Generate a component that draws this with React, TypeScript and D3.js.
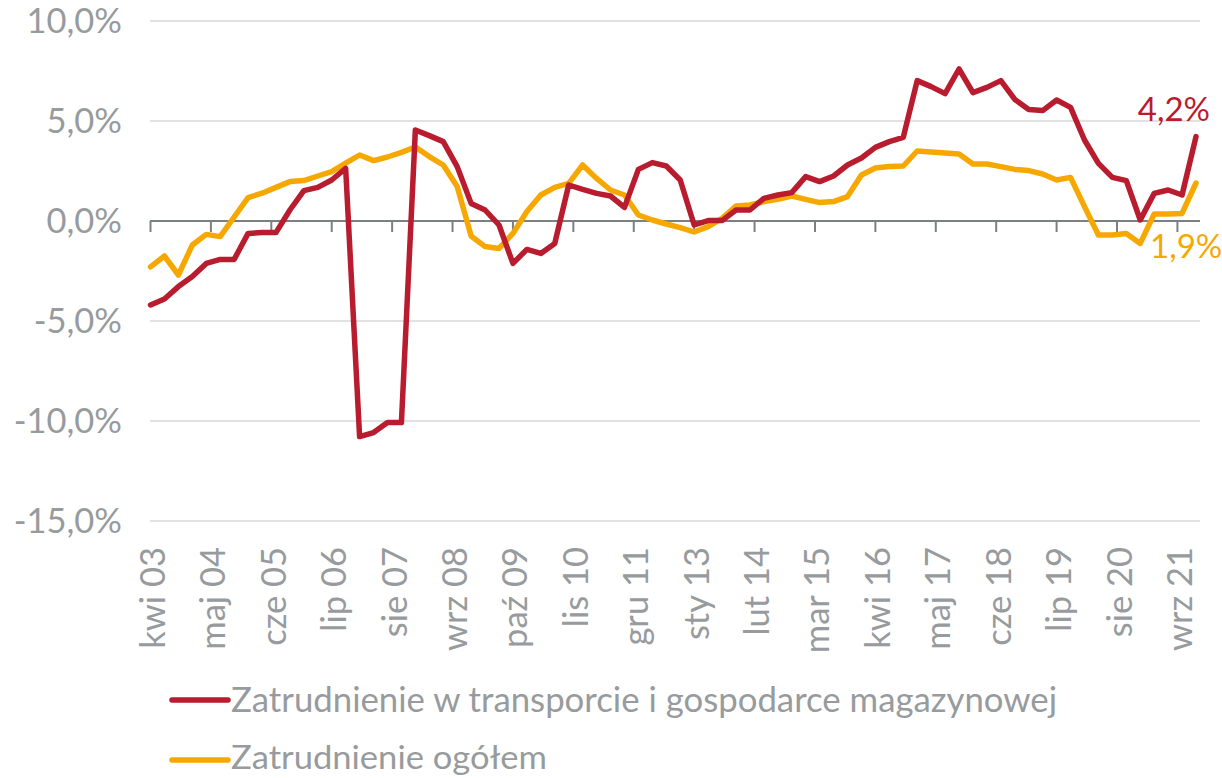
import React from 'react'
import { scaleLinear, line } from 'd3'

// quarterly y/y change, %, starting kwi 03
const transport = [
  -4.2, -3.9, -3.28, -2.78, -2.12, -1.92, -1.92, -0.62, -0.58, -0.58,
  0.55, 1.52, 1.68, 2.05, 2.63, -10.78, -10.58, -10.08, -10.08, 4.55,
  4.27, 3.97, 2.72, 0.88, 0.55, -0.2, -2.12, -1.42, -1.62, -1.12,
  1.8, 1.58, 1.38, 1.25, 0.68, 2.58, 2.92, 2.75, 2.05, -0.2,
  0.02, 0.02, 0.55, 0.55, 1.13, 1.3, 1.42, 2.22, 1.97, 2.25,
  2.8, 3.15, 3.68, 3.97, 4.18, 7.02, 6.72, 6.37, 7.6, 6.42,
  6.68, 7.02, 6.08, 5.58, 5.52, 6.05, 5.68, 4.05, 2.88, 2.18,
  2.02, 0.05, 1.38, 1.55, 1.3, 4.22,
]
const total = [
  -2.29, -1.75, -2.7, -1.2, -0.67, -0.78, 0.2, 1.17, 1.39, 1.68,
  1.97, 2.02, 2.25, 2.47, 2.89, 3.3, 3.02, 3.2, 3.43, 3.7,
  3.22, 2.8, 1.72, -0.75, -1.28, -1.37, -0.62, 0.47, 1.3, 1.68,
  1.88, 2.8, 2.13, 1.55, 1.3, 0.3, 0.05, -0.15, -0.33, -0.55,
  -0.28, 0.13, 0.75, 0.8, 0.97, 1.08, 1.25, 1.08, 0.92, 0.97,
  1.22, 2.3, 2.65, 2.73, 2.75, 3.5, 3.45, 3.4, 3.35, 2.85,
  2.85, 2.72, 2.58, 2.52, 2.35, 2.05, 2.18, 0.72, -0.7, -0.7,
  -0.62, -1.12, 0.35, 0.35, 0.38, 1.9,
]
const tickLabels = [
  'kwi 03', 'maj 04', 'cze 05', 'lip 06', 'sie 07', 'wrz 08', 'paź 09', 'lis 10', 'gru 11',
  'sty 13', 'lut 14', 'mar 15', 'kwi 16', 'maj 17', 'cze 18', 'lip 19', 'sie 20', 'wrz 21',
]
const yTicks = [10, 5, 0, -5, -10, -15]
const seriesNames = ['Zatrudnienie w transporcie i gospodarce magazynowej', 'Zatrudnienie ogółem']

const RED = '#b81c2e'
const ORANGE = '#f7a800'
const TEXT = '#979b9d'
const FONT = 'Lato, sans-serif'

const App = () => {
  // x in months since kwi 03; one point per quarter, a label every 13 months
  const x = scaleLinear().domain([0, 225]).range([150.5, 1196])
  const y = scaleLinear().domain([-15, 10]).range([521, 21])

  const mk = line<number>()
    .x((d, i) => x(i * 3))
    .y(d => y(d))

  const fmt = (v: number) => v.toFixed(1).replace('.', ',') + '%'
  const legendWidths = [826, 316]

  return (
    <svg width={1222} height={778} style={{ position: 'absolute', left: 0, top: 0 }}
      fontFamily={FONT}>
      <rect width={1222} height={778} fill="#fff" />
      {yTicks.filter(t => t !== 0).map(t => (
        <line key={t} x1={150} x2={1200} y1={y(t)} y2={y(t)} stroke="#d9d9d9" strokeWidth={1.5} />
      ))}
      {yTicks.map(t => (
        <text key={t} x={122} y={y(t)} dy="0.36em" textAnchor="end" fontSize={34.5} fill={TEXT}>
          {fmt(t)}
        </text>
      ))}

      <line x1={150} x2={1200} y1={y(0)} y2={y(0)} stroke="#7c8080" strokeWidth={2} />
      {tickLabels.map((lab, k) => (
        <g key={lab + k}>
          <line x1={x(k * 13)} x2={x(k * 13)} y1={y(0)} y2={y(0) + 11} stroke="#7c8080" strokeWidth={2} />
          <text transform={`translate(${x(k * 13)},547) rotate(-90)`} dy="0.42em" textAnchor="end"
            fontSize={34.5} fill={TEXT}>{lab}</text>
        </g>
      ))}

      <path d={mk(total) || ''} fill="none" stroke={ORANGE} strokeWidth={5.5} strokeLinejoin="round" strokeLinecap="round" />
      <path d={mk(transport) || ''} fill="none" stroke={RED} strokeWidth={5.5} strokeLinejoin="round" strokeLinecap="round" />

      <text x={1210} y={121} textAnchor="end" fontSize={33} fill={RED}>{fmt(transport[transport.length - 1])}</text>
      <text x={1150} y={258} fontSize={33} fill={ORANGE}>{fmt(total[total.length - 1])}</text>

      {seriesNames.map((name, i) => (
        <g key={name} transform={`translate(0,${700 + i * 60})`}>
          <line x1={172} x2={228} y1={0} y2={0} stroke={i === 0 ? RED : ORANGE} strokeWidth={5.5} strokeLinecap="round" />
          <text x={231} y={0} dy={i === 0 ? '0.34em' : '0.28em'} fontSize={i === 0 ? 34 : 33} fill={TEXT}
            textLength={legendWidths[i]} lengthAdjust="spacingAndGlyphs">{name}</text>
        </g>
      ))}
    </svg>
  )
}

export default App
